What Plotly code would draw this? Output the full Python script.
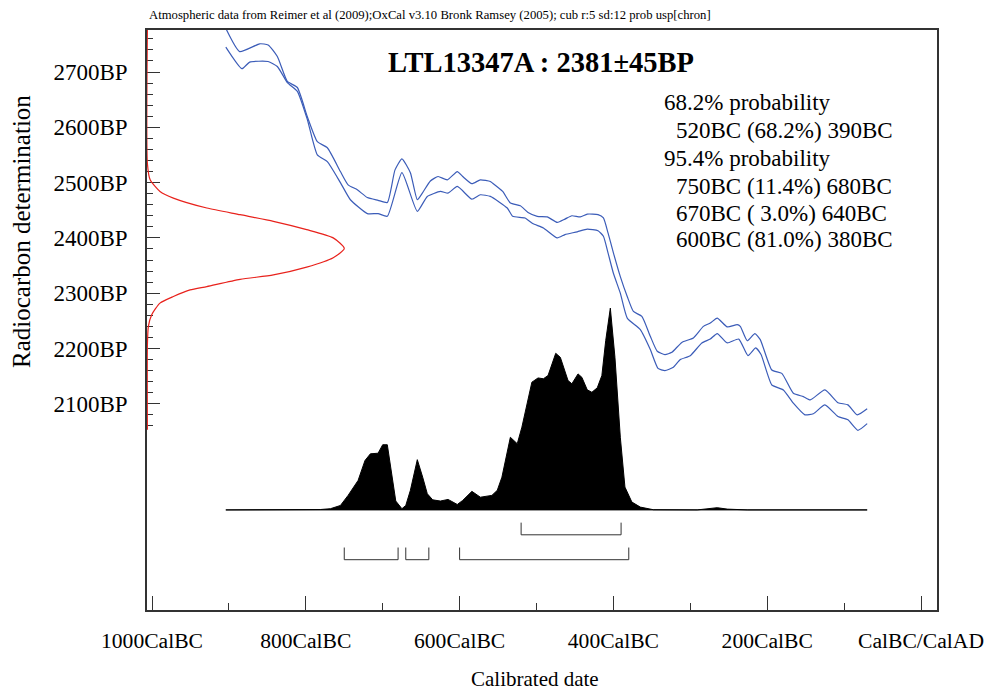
import plotly.graph_objects as go

# ---------------- data (calendar year: negative = BC) ----------------
curve_upper_year = [-904, -886, -860, -849, -837, -824, -811, -798, -785, -772, -755, -745, -733, -720,
                    -706, -694, -684, -675, -664, -655, -648, -638, -628, -616, -603, -596, -584, -573,
                    -560, -557, -544, -534, -521, -511, -499, -486, -473, -463, -454, -443, -434, -420,
                    -413, -407, -400, -391, -382, -374, -363, -352, -343, -333, -324, -311, -296, -283,
                    -274, -265, -252, -239, -235, -226, -216, -209, -194, -181, -166, -153, -144, -125,
                    -108, -95, -83, -70]
curve_upper_bp = [2779, 2737, 2751, 2749, 2728, 2683, 2672, 2619, 2574, 2563, 2520, 2496, 2487, 2473,
                  2468, 2464, 2523, 2543, 2518, 2469, 2482, 2503, 2511, 2505, 2520, 2511, 2498, 2505,
                  2502, 2499, 2484, 2463, 2458, 2446, 2439, 2438, 2428, 2434, 2440, 2438, 2443, 2442,
                  2436, 2409, 2373, 2330, 2294, 2267, 2258, 2222, 2195, 2189, 2193, 2211, 2219, 2240,
                  2246, 2255, 2239, 2243, 2240, 2214, 2227, 2216, 2161, 2155, 2119, 2113, 2107, 2125,
                  2102, 2098, 2080, 2091]

curve_lower_year = [-904, -883, -873, -849, -837, -824, -811, -798, -785, -772, -755, -742, -720, -706,
                    -694, -675, -655, -642, -625, -615, -603, -584, -573, -560, -538, -531, -515, -505,
                    -491, -473, -463, -447, -434, -420, -413, -407, -400, -391, -382, -365, -352, -342,
                    -333, -322, -313, -300, -285, -274, -265, -252, -237, -225, -215, -208, -194, -179,
                    -166, -151, -140, -125, -108, -95, -82, -70]
curve_lower_bp = [2745, 2706, 2718, 2719, 2710, 2681, 2665, 2614, 2550, 2538, 2500, 2469, 2444, 2444,
                  2439, 2518, 2448, 2475, 2484, 2481, 2493, 2470, 2478, 2475, 2454, 2439, 2436, 2426,
                  2418, 2400, 2406, 2411, 2416, 2413, 2403, 2373, 2336, 2300, 2255, 2234, 2198, 2164,
                  2160, 2166, 2180, 2187, 2210, 2217, 2227, 2210, 2217, 2187, 2201, 2189, 2134, 2125,
                  2101, 2080, 2082, 2098, 2077, 2071, 2052, 2064]

# calibrated probability distribution (relative to highest peak)
prob_year = [-904, -790, -781, -768, -755, -745, -736, -732, -723, -716, -706, -700, -694, -688, -683,
             -675, -670, -664, -655, -648, -642, -635, -625, -615, -603, -596, -584, -573, -558, -551,
             -545, -534, -525, -519, -506, -498, -491, -485, -475, -469, -459, -454, -446, -441, -434,
             -428, -421, -415, -410, -404, -398, -391, -385, -376, -365, -348, -291, -265, -252, -226, -70]
prob_rel = [0, 0, 0.002, 0.006, 0.022, 0.072, 0.121, 0.146, 0.245, 0.278, 0.281, 0.323, 0.323, 0.162,
            0.044, 0.006, 0.022, 0.097, 0.249, 0.162, 0.080, 0.050, 0.044, 0.052, 0.027, 0.047, 0.092,
            0.063, 0.072, 0.097, 0.162, 0.360, 0.328, 0.410, 0.633, 0.654, 0.650, 0.666, 0.776, 0.756,
            0.641, 0.625, 0.674, 0.657, 0.595, 0.583, 0.605, 0.666, 0.839, 1.0, 0.756, 0.360, 0.113,
            0.039, 0.014, 0.001, 0, 0.011, 0.004, 0, 0]

# radiocarbon measurement distribution (relative)
meas_bp = [2776, 2535, 2505, 2484, 2472, 2454, 2442, 2430, 2415, 2400, 2381, 2364, 2347, 2333, 2325,
           2312, 2306, 2294, 2282, 2261, 2240, 2204, 2053]
meas_rel = [0, 0, 0.014, 0.064, 0.132, 0.302, 0.471, 0.640, 0.809, 0.944, 1.0, 0.944, 0.809, 0.640,
            0.471, 0.302, 0.217, 0.132, 0.064, 0.022, 0.005, 0, 0]

range68 = [(-520, -390)]
range95 = [(-750, -680), (-670, -640), (-600, -380)]

x_tick_vals = [-1000, -800, -600, -400, -200, 0]
x_tick_text = ["1000CalBC", "800CalBC", "600CalBC", "400CalBC", "200CalBC", "CalBC/CalAD"]
x_minor_vals = [-900, -700, -500, -300, -100]
y_tick_vals = [2100, 2200, 2300, 2400, 2500, 2600, 2700]
y_tick_text = ["2100BP", "2200BP", "2300BP", "2400BP", "2500BP", "2600BP", "2700BP"]
y_minor_vals = list(range(2060, 2780, 20))

header = "Atmospheric data from Reimer et al (2009);OxCal v3.10 Bronk Ramsey (2005); cub r:5 sd:12 prob usp[chron]"
title = "LTL13347A : 2381±45BP"
prob_lines = ["68.2% probability", "520BC (68.2%) 390BC", "95.4% probability",
              "750BC (11.4%) 680BC", "670BC ( 3.0%) 640BC", "600BC (81.0%) 380BC"]
prob_indent = [False, True, False, True, True, True]

# ---------------- layout constants ----------------
W, H = 985, 690
PL, PR, PT, PB = 147, 937, 30, 610
X_MIN, X_MAX = -1006.5, 20.8
Y_MIN, Y_MAX = 1727, 2776
PROB_BASE = 1908      # BP level of the probability baseline
PROB_SCALE = 365      # BP units for the highest peak
MEAS_WIDTH = 256      # years for the measurement peak
R68_Y, R68_TICK = 1863, 1885
R95_Y, R95_TICK = 1818, 1840
SERIF = "Liberation Serif, Times New Roman, serif"


def px(x):
    return (x - PL) / (PR - PL)


def py(y):
    return (PB - y) / (PB - PT)


fig = go.Figure()

# probability distribution (filled black)
fig.add_trace(go.Scatter(
    x=prob_year + [prob_year[-1], prob_year[0]],
    y=[PROB_BASE + r * PROB_SCALE for r in prob_rel] + [PROB_BASE, PROB_BASE],
    fill="toself", fillcolor="black", mode="lines",
    line=dict(color="black", width=1), hoverinfo="skip"))

# calibration curve
for xs, ys in [(curve_upper_year, curve_upper_bp), (curve_lower_year, curve_lower_bp)]:
    fig.add_trace(go.Scatter(x=xs, y=ys, mode="lines",
                             line=dict(color="#3b5cb8", width=1.2, shape="spline", smoothing=0.5),
                             hoverinfo="skip"))

# measurement distribution (red)
fig.add_trace(go.Scatter(
    x=[X_MIN + 0.5 + r * MEAS_WIDTH for r in meas_rel], y=meas_bp, mode="lines",
    line=dict(color="#e8221c", width=1.2, shape="spline", smoothing=0.6), hoverinfo="skip"))

# range brackets
for ranges, yb, yt in [(range68, R68_Y, R68_TICK), (range95, R95_Y, R95_TICK)]:
    bx, by = [], []
    for a, b in ranges:
        bx += [a, a, b, b, None]
        by += [yt, yb, yb, yt, None]
    fig.add_trace(go.Scatter(x=bx, y=by, mode="lines",
                             line=dict(color="#333333", width=1), hoverinfo="skip"))

annotations = [
    dict(text=header, x=px(PL), y=py(15), xanchor="left", yanchor="middle",
         font=dict(family=SERIF, size=12.7, color="black")),
    dict(text="<b>" + title + "</b>", x=px(541), y=py(63), xanchor="center", yanchor="middle",
         font=dict(family=SERIF, size=28.5, color="black")),
    dict(text="Radiocarbon determination", x=px(22), y=py(231), xanchor="center", yanchor="middle",
         textangle=-90, font=dict(family=SERIF, size=25, color="black")),
    dict(text="Calibrated date", x=px(535), y=py(679), xanchor="center", yanchor="middle",
         font=dict(family=SERIF, size=21, color="black")),
]
line_y = [102, 130, 158, 186, 213, 240]
for txt, ind, ly in zip(prob_lines, prob_indent, line_y):
    annotations.append(dict(text=txt, x=px(674 if ind else 662), y=py(ly), xanchor="left",
                            yanchor="middle", font=dict(family=SERIF, size=23, color="black")))
for a in annotations:
    a.update(xref="paper", yref="paper", showarrow=False)

fig.update_layout(
    width=W, height=H, margin=dict(l=PL, r=W - PR, t=PT, b=H - PB, autoexpand=False),
    paper_bgcolor="white", plot_bgcolor="white", showlegend=False,
    annotations=annotations,
    xaxis=dict(range=[X_MIN, X_MAX], showgrid=False, zeroline=False, automargin=False,
               showline=True, mirror=True, linecolor="#333333", linewidth=1.5,
               tickmode="array", tickvals=x_tick_vals, ticktext=x_tick_text,
               ticks="inside", ticklen=14, tickwidth=1.2, tickcolor="#333333",
               minor=dict(tickvals=x_minor_vals, ticks="inside", ticklen=7, tickwidth=1.2,
                          tickcolor="#333333", showgrid=False),
               ticklabelstandoff=10, ticklabeloverflow="allow",
               tickfont=dict(family=SERIF, size=21.6, color="black"), layer="below traces"),
    yaxis=dict(range=[Y_MIN, Y_MAX], showgrid=False, zeroline=False, automargin=False,
               showline=True, mirror=True, linecolor="#333333", linewidth=1.5,
               tickmode="array", tickvals=y_tick_vals, ticktext=y_tick_text,
               ticks="inside", ticklen=13, tickwidth=1.2, tickcolor="#333333",
               minor=dict(tickvals=y_minor_vals, ticks="inside", ticklen=6, tickwidth=1.2,
                          tickcolor="#333333", showgrid=False),
               ticklabelstandoff=13, ticklabeloverflow="allow",
               tickfont=dict(family=SERIF, size=23, color="black"), layer="below traces"),
)

fig.write_html("out.html", config={"displayModeBar": False},
               post_script="document.body.style.margin='0';")
